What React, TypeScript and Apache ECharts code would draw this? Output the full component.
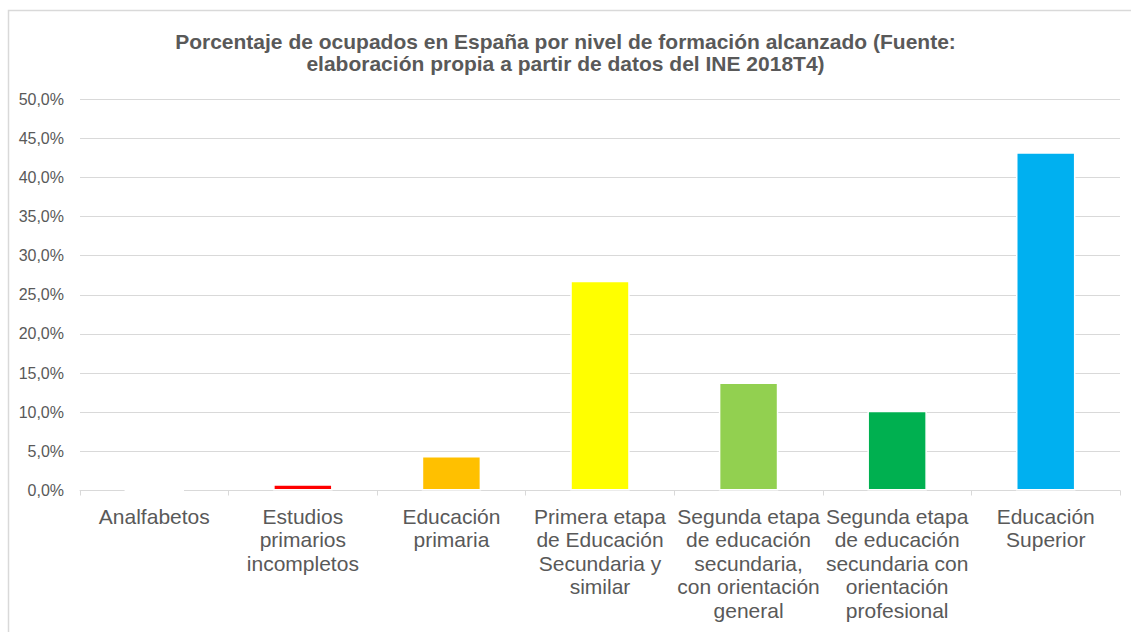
import React, { useEffect, useRef } from "react";
import * as echarts from "echarts";

const titleText =
  "Porcentaje de ocupados en España por nivel de formación alcanzado (Fuente:\nelaboración propia a partir de datos del INE 2018T4)";

const categories = [
  "Analfabetos",
  "Estudios\nprimarios\nincompletos",
  "Educación\nprimaria",
  "Primera etapa\nde Educación\nSecundaria y\nsimilar",
  "Segunda etapa\nde educación\nsecundaria,\ncon orientación\ngeneral",
  "Segunda etapa\nde educación\nsecundaria con\norientación\nprofesional",
  "Educación\nSuperior",
];

const values = [0.0, 0.8, 4.4, 26.8, 13.8, 10.2, 43.2];

const barColors = ["#7F7F7F", "#FF0000", "#FFC000", "#FFFF00", "#92D050", "#00B050", "#00B0F0"];

const yMin = 0;
const yMax = 50;
const yStep = 5;

export default function App() {
  const ref = useRef<HTMLDivElement>(null);

  useEffect(() => {
    if (!ref.current) return;
    const chart = echarts.init(ref.current, null, { renderer: "svg" });
    const textColor = "#595959";
    const font = "'Liberation Sans', Arial, sans-serif";
    chart.setOption({
      animation: false,
      backgroundColor: "#ffffff",
      graphic: [
        {
          type: "rect",
          shape: { x: 8.5, y: 10.5, width: 1140, height: 640 },
          style: { fill: "none", stroke: "#d9d9d9", lineWidth: 1.5 },
          silent: true,
          z: -1,
        },
      ],
      title: {
        text: titleText,
        left: "center",
        top: 25,
        textStyle: {
          fontFamily: font,
          fontSize: 21,
          fontWeight: "bold",
          color: textColor,
          lineHeight: 22,
        },
      },
      grid: {
        left: 80,
        right: 11,
        top: 99,
        bottom: 141.5,
        containLabel: false,
      },
      xAxis: {
        type: "category",
        data: categories,
        axisLine: { lineStyle: { color: "#d9d9d9", width: 1 } },
        axisTick: { show: true, length: 5, lineStyle: { color: "#d9d9d9" } },
        axisLabel: {
          interval: 0,
          margin: 14,
          fontFamily: font,
          fontSize: 21,
          color: textColor,
          lineHeight: 23.5,
          align: "center",
        },
      },
      yAxis: {
        type: "value",
        min: yMin,
        max: yMax,
        interval: yStep,
        axisLine: { show: false },
        axisTick: { show: false },
        splitLine: { lineStyle: { color: "#d9d9d9", width: 1 } },
        axisLabel: {
          margin: 16,
          fontFamily: font,
          fontSize: 16,
          color: textColor,
          formatter: (v: number) => v.toFixed(1).replace(".", ",") + "%",
        },
      },
      series: [
        {
          type: "bar",
          barWidth: "40%",
          data: values.map((v, i) => ({
            value: v,
            itemStyle: { color: barColors[i] },
          })),
          itemStyle: { borderColor: "#ffffff", borderWidth: 1.5 },
        },
      ],
    });
    return () => chart.dispose();
  }, []);

  return (
    <div
      ref={ref}
      style={{ position: "fixed", left: 0, top: 0, width: 1131, height: 632 }}
    />
  );
}
